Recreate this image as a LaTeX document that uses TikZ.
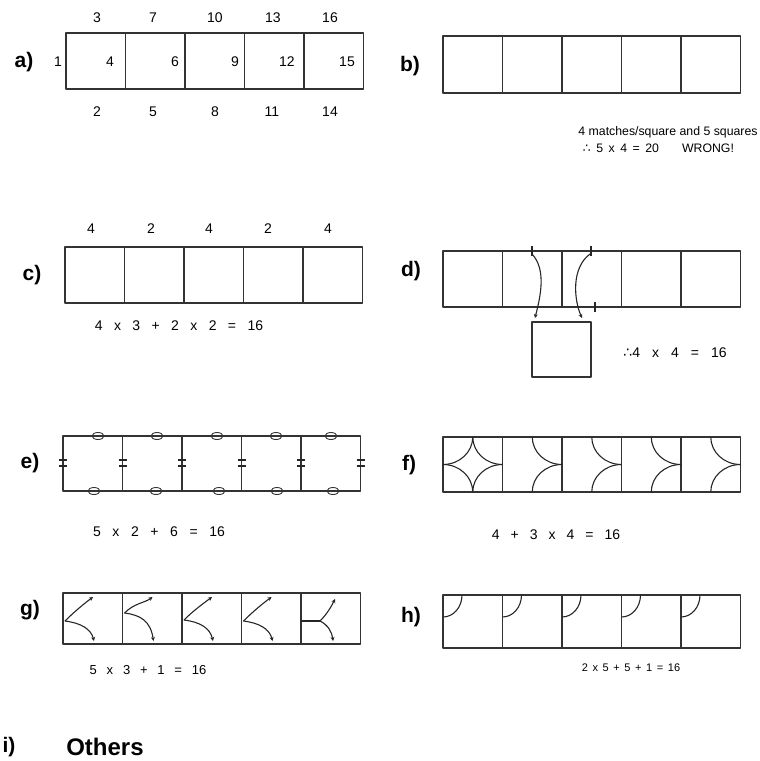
\documentclass[tikz,border=0pt]{standalone}
\usepackage{fontspec}
\setmainfont{Liberation Sans}
\newfontfamily\symf{DejaVu Sans}
\usetikzlibrary{arrows.meta}
\tikzset{
  edge/.style={line width=1.1pt, draw=black!80, line cap=round, line join=round},
  curve/.style={line width=1.1pt, draw=black!85},
  arr/.style={curve, -{Stealth[length=4pt, width=4pt]}},
  ring/.style={line width=0.9pt, draw=black!80},
  lbl/.style={font=\fontsize{21}{24}\selectfont\bfseries, inner sep=0pt},
  num/.style={font=\fontsize{14}{16}\selectfont, inner sep=0pt},
  eqn/.style={font=\fontsize{14}{16}\selectfont, inner sep=0pt},
  note/.style={font=\fontsize{12.3}{14}\selectfont, inner sep=0pt},
}
% five cells in a row: left, top, height
\newcommand{\cellrow}[3]{%
  \draw[edge] (#1,#2) rectangle ++(297.5,#3);
  \foreach \k in {1,...,4} \draw[edge] ({#1+59.5*\k},#2) -- ++(0,#3);
}

\begin{document}
\begin{tikzpicture}[x=1pt, y=-1pt]
  \useasboundingbox (0,0) rectangle (760,761);

  % a)
  \node[lbl] (lbla) at (24,62) {a)};
  \cellrow{66}{33}{56}
  \node[num] (a1) at (58,62) {1};
  \foreach \t/\xx in {3/97,7/153,10/215,13/273,16/330} \node[num] (atop\t) at (\xx,18) {\t};
  \foreach \t/\xx in {4/110,6/175,9/235,12/287,15/347} \node[num] (amid\t) at (\xx,62) {\t};
  \foreach \t/\xx in {2/97,5/153,8/215,11/272,14/330} \node[num] (abot\t) at (\xx,112) {\t};

  % b)
  \node[lbl] (lblb) at (410,66) {b)};
  \cellrow{443}{36}{57}
  \node[note] (bnote) at (668,132) {4 matches/square and 5 squares};
  \node[note] (bsum) at (621,148) {\spaceskip=5.5pt {\symf ∴} 5 x 4 = 20};
  \node[note] (bwrong) at (708,148) {WRONG!};

  % c)
  \node[lbl] (lblc) at (32,275) {c)};
  \cellrow{65}{247}{56}
  \foreach \t/\xx [count=\i] in {4/91,2/151,4/209,2/268,4/328} \node[num] (ctop\i) at (\xx,229) {\t};
  \node[eqn] (eqc) at (179,326) {\spaceskip=11.4pt 4 x 3 + 2 x 2 = 16};

  % d)
  \node[lbl] (lbld) at (411,271) {d)};
  \cellrow{443}{251}{56}
  \draw[edge] (532,322) rectangle (591,377);
  \draw[curve] (532,246) -- (532,256);
  \draw[curve] (591,246) -- (591,256);
  \draw[curve] (595,302) -- (595,312);
  \draw[arr] (532,254) .. controls (547,270) and (540,298) .. (535,318);
  \draw[arr] (590,254) .. controls (571,268) and (574,300) .. (582,318);
  \node[eqn] (eqd) at (675,353) {\spaceskip=12pt {\symf ∴}4 x 4 = 16};

  % e)
  \node[lbl] (lble) at (30,463) {e)};
  \cellrow{63}{436}{55}
  \foreach \xx in {98,157,217,276,331} \draw[ring] (\xx,436) ellipse [x radius=6, y radius=3.5];
  \foreach \xx in {94,156,219,277,333} \draw[ring] (\xx,491) ellipse [x radius=6, y radius=3.5];
  \foreach \xx in {63,122.5,182,241.5,301,360.5} {
    \draw[curve] (\xx-4,460) -- (\xx+4,460);
    \draw[curve] (\xx-4,466) -- (\xx+4,466);
  }
  \node[eqn] (eqe) at (159,532) {\spaceskip=11.6pt 5 x 2 + 6 = 16};

  % f)
  \node[lbl] (lblf) at (409,465) {f)};
  \cellrow{443}{437}{55}
  \draw[curve] (472.75,437) arc[start angle=0, end angle=90, x radius=29.75, y radius=27.5];
  \draw[curve] (472.75,437) arc[start angle=180, end angle=90, x radius=29.75, y radius=27.5];
  \draw[curve] (443,464.5) arc[start angle=270, end angle=360, x radius=29.75, y radius=27.5];
  \draw[curve] (472.75,492) arc[start angle=180, end angle=270, x radius=29.75, y radius=27.5];
  \foreach \L in {502.5,562,621.5,681} {
    \draw[curve] (\L+29.75,437) arc[start angle=180, end angle=90, x radius=29.75, y radius=27.5];
    \draw[curve] (\L+29.75,492) arc[start angle=180, end angle=270, x radius=29.75, y radius=27.5];
  }
  \node[eqn] (eqf) at (556,535) {\spaceskip=11pt 4 + 3 x 4 = 16};

  % g)
  \node[lbl] (lblg) at (30,610) {g)};
  \cellrow{63}{593}{51}
  \foreach \L/\J in {63/621,122.5/613,182/620,241.5/621} {
    \draw[arr] (\L+2,\J) .. controls (\L+12,\J-10) and (\L+22,603) .. (\L+30,597);
    \draw[arr] (\L+2,\J) .. controls (\L+18,\J+2) and (\L+28,\J+8) .. (\L+31,641);
  }
  \draw[curve] (301,621) -- (320,621);
  \draw[arr] (320,621) .. controls (327,614) and (331,607) .. (335,599);
  \draw[arr] (320,621) .. controls (328,625) and (332,632) .. (333,641);
  \node[eqn, font=\fontsize{13}{15}\selectfont] (eqg) at (148,670) {\spaceskip=9.8pt 5 x 3 + 1 = 16};

  % h)
  \node[lbl] (lblh) at (411,617) {h)};
  \cellrow{443}{595}{53}
  \foreach \L in {443,502.5,562,621.5,681}
    \draw[curve] (\L+19,595) arc[start angle=0, end angle=90, x radius=19, y radius=22];
  \node[eqn, font=\fontsize{11}{13}\selectfont] (eqh) at (631,668) {\spaceskip=4.6pt 2 x 5 + 5 + 1 = 16};

  % i)
  \node[lbl] (lbli) at (9,747) {i)};
  \node[font=\fontsize{24}{28}\selectfont\bfseries, inner sep=0pt] (others) at (105,747) {Others};
\end{tikzpicture}
\end{document}
